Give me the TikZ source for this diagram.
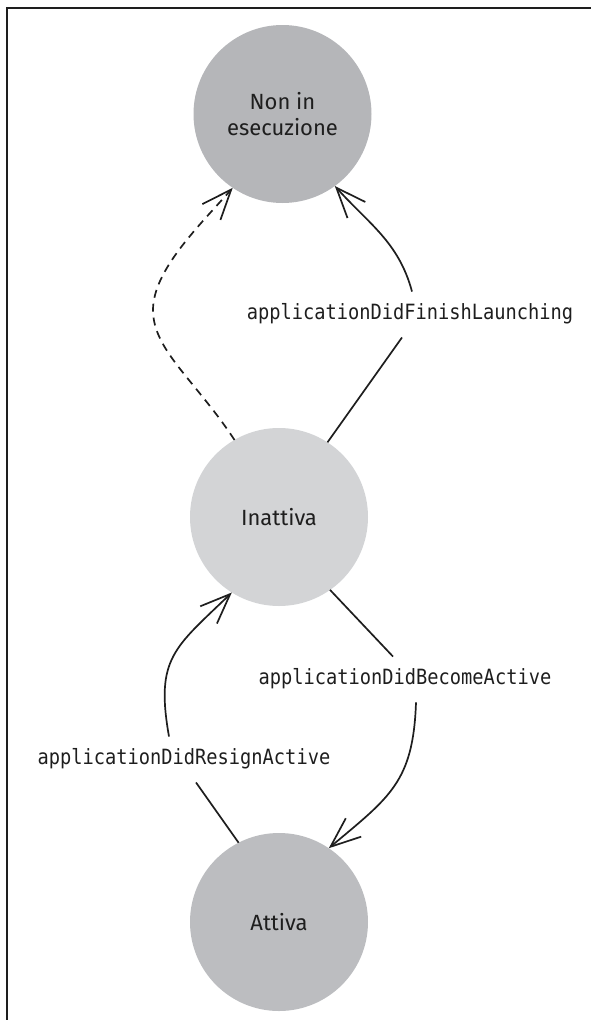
\documentclass[tikz,border=0pt]{standalone}
\usepackage{fontspec}
\setmainfont{Fira Sans}
\newfontfamily\lblfont[FakeStretch=0.89]{DejaVu Sans Mono}
\usetikzlibrary{arrows.meta}
\definecolor{cdark}{HTML}{B5B6B9}
\definecolor{clight}{HTML}{D3D4D6}
\definecolor{cmid}{HTML}{BCBDC0}
\definecolor{ink}{HTML}{1E1E1E}
\begin{document}
\begin{tikzpicture}[x=1pt,y=1pt,
  state/.style={circle,minimum size=178pt,inner sep=0pt,outer sep=0pt,text=ink,
    font=\fontsize{22}{26}\selectfont,align=center},
  lbl/.style={font=\lblfont\fontsize{21}{24}\selectfont,text=ink,inner xsep=0pt,
    inner ysep=13pt,text height=15pt,text depth=4.5pt},
  conn/.style={draw=ink,line width=1.7pt},
  arr/.style={conn,-{Straight Barb[length=30pt,width=24pt]}}
]
\useasboundingbox (0,0) rectangle (591,-1020);
\draw[ink,line width=2pt] (7,-1020) -- (7,-8) -- (591,-8);

\node[state,fill=cdark] (run) at (282.5,-114) {Non in\\esecuzione};
\node[state,fill=clight] (ina) at (279,-517) {Inattiva};
\node[state,fill=cmid] (att) at (279,-922) {Attiva};

\node[lbl] (l1) at (410,-314.5) {applicationDidFinishLaunching};
\node[lbl] (l2) at (405,-679.5) {applicationDidBecomeActive};
\node[lbl] (l3) at (184,-759.5) {applicationDidResignActive};

\coordinate (dmid) at (153,-310);
\draw[arr,dash pattern=on 8pt off 6pt] (ina.120) .. controls (195,-380) and (153,-350) .. (dmid)
  .. controls (153,-270) and (200,-225) .. (run.236);

\draw[conn] (ina.57) -- ([xshift=-8pt]l1.south);
\draw[arr] ([xshift=2pt]l1.north) to[out=105,in=-48] (run.-54);

\draw[conn] (ina.-55) -- ([xshift=-12pt]l2.north);
\draw[arr] ([xshift=11pt]l2.south) to[out=-92,in=40,looseness=1.2] (att.56);

\draw[conn] (att.117) -- ([xshift=12pt]l3.south);
\draw[arr] ([xshift=-15pt]l3.north) to[out=100,in=224,looseness=1.3] (ina.238);
\end{tikzpicture}
\end{document}
